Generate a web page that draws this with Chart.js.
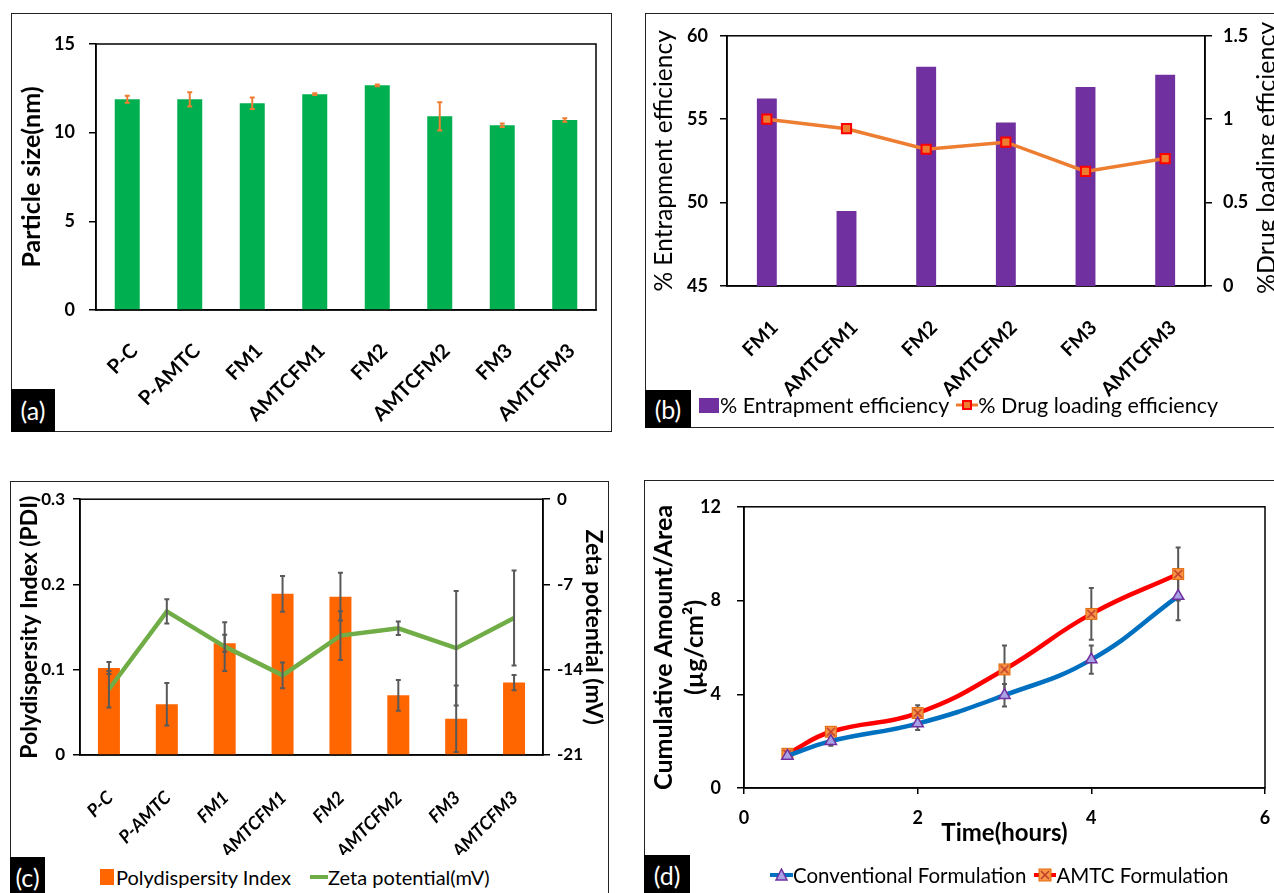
<!DOCTYPE html>
<html>
<head>
    <title>Formulation characterisation</title>
    <script src="https://cdn.jsdelivr.net/npm/chart.js@4.4.1/dist/chart.umd.min.js"></script>
    <style>
        html, body { margin: 0; padding: 0; overflow: hidden; background: #fff; }
        body { position: relative; width: 1274px; height: 893px; font-family: Lato, sans-serif; }
        .panel { position: absolute; box-sizing: border-box; border: 1.5px solid #222; }
        .tag { position: absolute; background: #000; color: #fff; font-size: 25px; line-height: 1;
               display: flex; align-items: center; justify-content: center; }
        canvas { position: absolute; }
        .legend { position: absolute; display: flex; align-items: center; white-space: nowrap; color: #000; }
        .legend svg, .legend span { display: block; }
    </style>
</head>
<body>
    <div class="panel" style="left:11px;top:13px;width:601px;height:419px"></div>
    <div class="panel" style="left:645px;top:13px;width:700px;height:415px"></div>
    <div class="panel" style="left:10px;top:481px;width:599px;height:500px"></div>
    <div class="panel" style="left:644px;top:480px;width:700px;height:500px"></div>

    <canvas id="chartA" width="601" height="419" style="left:11px;top:13px"></canvas>
    <canvas id="chartB" width="660" height="415" style="left:645px;top:13px"></canvas>
    <canvas id="chartC" width="599" height="379" style="left:10px;top:481px"></canvas>
    <canvas id="chartD" width="650" height="380" style="left:644px;top:480px"></canvas>

    <div class="tag" style="left:11px;top:389px;width:44px;height:43px">(a)</div>
    <div class="tag" style="left:645px;top:390px;width:46px;height:38px">(b)</div>
    <div class="tag" style="left:10px;top:857px;width:35px;height:40px">(c)</div>
    <div class="tag" style="left:644px;top:855px;width:46px;height:40px">(d)</div>

    <!-- legends -->
    <div class="legend" style="left:699px;top:392px;height:26px;font-size:21.5px">
        <span style="width:20px;height:15px;background:#7030A0;margin-right:1px"></span>
        <span>% Entrapment efficiency</span>
        <svg width="22" height="14" style="margin-left:7px"><line x1="0" y1="7" x2="22" y2="7" stroke="#ED7D31" stroke-width="3"/><rect x="7" y="3" width="8" height="8" fill="#ED7D31" stroke="#FF0000" stroke-width="2"/></svg>
        <span>% Drug loading efficiency</span>
    </div>
    <div class="legend" style="left:100px;top:864px;height:26px;font-size:20px">
        <span style="width:14px;height:16px;background:#FF6600;margin-right:2px"></span>
        <span>Polydispersity Index</span>
        <svg width="18" height="6" style="margin-left:19px"><line x1="0" y1="3" x2="18" y2="3" stroke="#70AD47" stroke-width="4"/></svg>
        <span>Zeta potential(mV)</span>
    </div>
    <div class="legend" style="left:770px;top:862px;height:26px;font-size:20.5px">
        <svg width="23" height="14"><line x1="0" y1="7" x2="23" y2="7" stroke="#0070C0" stroke-width="4"/><polygon points="11.5,1 17,12 6,12" fill="#A9A3E6" stroke="#7030A0" stroke-width="1.5"/></svg>
        <span>Conventional Formulation</span>
        <svg width="22" height="14" style="margin-left:8px"><line x1="0" y1="7" x2="22" y2="7" stroke="#FF0000" stroke-width="4"/><rect x="5" y="1" width="12" height="12" fill="#F79646" stroke="#E46C0A" stroke-width="1"/><path d="M7,3 L15,11 M15,3 L7,11" stroke="#C0392B" stroke-width="1.5"/></svg>
        <span>AMTC Formulation</span>
    </div>

    <script>
        // (a) particle size
        const formulations = ['P-C', 'P-AMTC', 'FM1', 'AMTCFM1', 'FM2', 'AMTCFM2', 'FM3', 'AMTCFM3'];
        const particleSize = [11.88, 11.88, 11.66, 12.17, 12.67, 10.92, 10.42, 10.72];
        const particleSizeErr = [0.2, 0.4, 0.33, 0.05, 0.05, 0.8, 0.1, 0.1];

        // (b) entrapment / drug loading
        const loadedFormulations = ['FM1', 'AMTCFM1', 'FM2', 'AMTCFM2', 'FM3', 'AMTCFM3'];
        const entrapment = [56.24, 49.5, 58.15, 54.8, 56.93, 57.66];
        const drugLoading = [1.0, 0.943, 0.82, 0.862, 0.687, 0.764];

        // (c) PDI and zeta potential
        const pdi = [0.102, 0.0595, 0.131, 0.189, 0.1856, 0.070, 0.0424, 0.0849];
        const pdiErr = [0.007, 0.025, 0.01, 0.021, 0.028, 0.018, 0.039, 0.009];
        const zeta = [-15.6, -9.21, -12.1, -14.46, -11.2, -10.6, -12.23, -9.75];
        const zetaErr = [1.5, 1.0, 2.0, 1.05, 2.0, 0.55, 4.7, 3.9];

        // (d) permeation
        const timeHours = [0.5, 1, 2, 3, 4, 5];
        const conventional = [1.37, 2.0, 2.75, 3.96, 5.48, 8.19];
        const conventionalErr = [0.05, 0.2, 0.28, 0.48, 0.6, 1.03];
        const amtc = [1.46, 2.4, 3.2, 5.06, 7.43, 9.13];
        const amtcErr = [0.05, 0.12, 0.33, 1.02, 1.1, 1.13];

        Chart.defaults.font.family = 'Lato';
        Chart.defaults.color = '#000';
        Chart.defaults.animation = false;
        Chart.defaults.plugins.legend.display = false;
        Chart.defaults.plugins.tooltip.enabled = false;

        // box around the plot area
        const framePlugin = {
            id: 'frame',
            beforeDatasetsDraw(chart) {
                const a = chart.chartArea, ctx = chart.ctx;
                ctx.save();
                ctx.strokeStyle = '#000';
                ctx.lineWidth = 1.5;
                ctx.strokeRect(a.left, a.top, a.right - a.left, a.bottom - a.top);
                ctx.restore();
            }
        };

        // error bars drawn from the y scale of each dataset
        function errorBars(sets, behind) {
            const draw = chart => {
                const ctx = chart.ctx;
                sets.forEach(set => {
                    const meta = chart.getDatasetMeta(set.dataset);
                    const ds = chart.data.datasets[set.dataset];
                    const yScale = chart.scales[meta.yAxisID];
                    ctx.save();
                    ctx.strokeStyle = set.color;
                    ctx.lineWidth = set.width || 2;
                    meta.data.forEach((el, i) => {
                        const raw = ds.data[i];
                        const v = typeof raw === 'object' ? raw.y : raw;
                        const e = set.err[i];
                        const yTop = yScale.getPixelForValue(v + e);
                        const yBot = yScale.getPixelForValue(v - e);
                        const c = set.cap || 2.5;
                        ctx.beginPath();
                        ctx.moveTo(el.x, yTop); ctx.lineTo(el.x, yBot);
                        ctx.moveTo(el.x - c, yTop); ctx.lineTo(el.x + c, yTop);
                        ctx.moveTo(el.x - c, yBot); ctx.lineTo(el.x + c, yBot);
                        ctx.stroke();
                    });
                    ctx.restore();
                });
            };
            return behind ? { id: 'errBehind', beforeDatasetsDraw: draw } : { id: 'errFront', afterDatasetsDraw: draw };
        }

        // right-hand title of (b), reading bottom to top like the left one
        const rightTitlePlugin = {
            id: 'rightTitle',
            afterDraw(chart) {
                const ctx = chart.ctx, a = chart.chartArea;
                ctx.save();
                ctx.translate(630, (a.top + a.bottom) / 2 - 3);
                ctx.rotate(-Math.PI / 2);
                ctx.font = '25px Lato';
                ctx.fillStyle = '#000';
                ctx.textAlign = 'center';
                ctx.textBaseline = 'alphabetic';
                ctx.fillText('%Drug loading efficiency', 0, 0);
                ctx.restore();
            }
        };

        // plain tick text, 1 rather than 1.0
        const plainTick = v => String(Math.round(v * 1000) / 1000);

        function yAxis(min, max, step, width, tickFont, title, titleFont, titlePad, tickPad, pos) {
            return {
                position: pos || 'left',
                min: min, max: max,
                ticks: { stepSize: step, font: tickFont, padding: tickPad, callback: plainTick },
                grid: { drawOnChartArea: false, drawTicks: true, tickLength: 7, color: '#000', lineWidth: 1.5 },
                border: { color: '#000', width: 1.5 },
                title: { display: !!title, text: title, font: titleFont, padding: { top: titlePad, bottom: 0 } },
                afterFit(scale) { scale.width = width; }
            };
        }

        function catAxis(height, font, pad, offset) {
            return {
                grid: { display: false },
                border: { color: '#000', width: 1.5 },
                ticks: { minRotation: 45, maxRotation: 45, autoSkip: false, font: font, padding: pad, labelOffset: offset },
                afterFit(scale) { scale.height = height; }
            };
        }

        // (a)
        new Chart(document.getElementById('chartA'), {
            type: 'bar',
            data: {
                labels: formulations,
                datasets: [{
                    label: 'Particle size',
                    data: particleSize,
                    backgroundColor: '#00B050',
                    categoryPercentage: 1,
                    barPercentage: 0.4
                }]
            },
            options: {
                responsive: false,
                layout: { padding: { top: 31, right: 16, bottom: 0, left: 0 } },
                scales: {
                    x: catAxis(122, { size: 20, weight: 'bold' }, 21, 7),
                    y: yAxis(0, 15, 5, 85, { size: 18, weight: 'bold' }, 'Particle size(nm)',
                        { size: 25, weight: 'bold' }, 6, 14)
                }
            },
            plugins: [framePlugin, errorBars([{ dataset: 0, err: particleSizeErr, color: '#ED7D31', width: 2 }])]
        });

        // (b)
        new Chart(document.getElementById('chartB'), {
            type: 'bar',
            data: {
                labels: loadedFormulations,
                datasets: [{
                    type: 'line',
                    label: '% Drug loading efficiency',
                    data: drugLoading,
                    yAxisID: 'y1',
                    borderColor: '#ED7D31',
                    borderWidth: 3.5,
                    pointStyle: 'rect',
                    pointRadius: 6.5,
                    pointBackgroundColor: '#ED7D31',
                    pointBorderColor: '#FF0000',
                    pointBorderWidth: 2,
                    order: 0
                }, {
                    label: '% Entrapment efficiency',
                    data: entrapment,
                    yAxisID: 'y',
                    backgroundColor: '#7030A0',
                    categoryPercentage: 1,
                    barPercentage: 0.25,
                    order: 1
                }]
            },
            options: {
                responsive: false,
                layout: { padding: { top: 18, right: 0, bottom: 22, left: 0 } },
                scales: {
                    x: catAxis(120, { size: 19.5, weight: 'bold' }, 22, 8),
                    y: yAxis(45, 60, 5, 82, { size: 18, weight: 'bold' }, '% Entrapment efficiency',
                        { size: 24.5 }, 4, 12),
                    y1: yAxis(0, 1.5, 0.5, 100, { size: 18, weight: 'bold' }, '', null, 0, 11, 'right')
                }
            },
            plugins: [framePlugin, rightTitlePlugin]
        });

        // (c)
        new Chart(document.getElementById('chartC'), {
            type: 'bar',
            data: {
                labels: formulations,
                datasets: [{
                    type: 'line',
                    label: 'Zeta potential(mV)',
                    data: zeta,
                    yAxisID: 'y1',
                    borderColor: '#70AD47',
                    borderWidth: 4.5,
                    pointRadius: 0,
                    order: 0
                }, {
                    label: 'Polydispersity Index',
                    data: pdi,
                    yAxisID: 'y',
                    backgroundColor: '#FF6600',
                    categoryPercentage: 1,
                    barPercentage: 0.38,
                    order: 1
                }]
            },
            options: {
                responsive: false,
                layout: { padding: { top: 17, right: 0, bottom: 5, left: 0 } },
                scales: {
                    x: catAxis(100, { size: 18, weight: 'bold', style: 'italic' }, 24, 1),
                    y: yAxis(0, 0.3, 0.1, 70, { size: 17, weight: 'bold' }, 'Polydispersity Index (PDI)',
                        { size: 23, weight: 'bold' }, 6, 8),
                    y1: yAxis(-21, 0, 7, 66, { size: 17, weight: 'bold' }, 'Zeta potential (mV)',
                        { size: 23, weight: 'bold' }, 2, 7, 'right')
                }
            },
            plugins: [framePlugin, errorBars([
                { dataset: 1, err: pdiErr, color: '#595959', width: 2 },
                { dataset: 0, err: zetaErr, color: '#595959', width: 2 }
            ])]
        });

        // (d)
        function crossSquare() {
            const c = document.createElement('canvas');
            c.width = 14; c.height = 14;
            const g = c.getContext('2d');
            g.fillStyle = '#F79646';
            g.fillRect(1, 1, 12, 12);
            g.strokeStyle = '#E46C0A';
            g.lineWidth = 1;
            g.strokeRect(1.5, 1.5, 11, 11);
            g.strokeStyle = '#C0392B';
            g.lineWidth = 1.5;
            g.beginPath();
            g.moveTo(3, 3); g.lineTo(11, 11);
            g.moveTo(11, 3); g.lineTo(3, 11);
            g.stroke();
            return c;
        }

        new Chart(document.getElementById('chartD'), {
            type: 'line',
            data: {
                datasets: [{
                    label: 'Conventional Formulation',
                    data: timeHours.map((t, i) => ({ x: t, y: conventional[i] })),
                    borderColor: '#0070C0',
                    borderWidth: 4.5,
                    tension: 0.45,
                    pointStyle: 'triangle',
                    pointRadius: 6.5,
                    pointBackgroundColor: '#A9A3E6',
                    pointBorderColor: '#7030A0',
                    pointBorderWidth: 1.5
                }, {
                    label: 'AMTC Formulation',
                    data: timeHours.map((t, i) => ({ x: t, y: amtc[i] })),
                    borderColor: '#FF0000',
                    borderWidth: 4.5,
                    tension: 0.45,
                    pointStyle: crossSquare(),
                    pointRadius: 7
                }]
            },
            options: {
                responsive: false,
                layout: { padding: { top: 18, right: 29, bottom: 12, left: 0 } },
                scales: {
                    x: {
                        type: 'linear',
                        min: 0, max: 6,
                        ticks: { stepSize: 2, font: { size: 18, weight: 'bold' }, padding: 13 },
                        grid: { drawOnChartArea: false, drawTicks: true, tickLength: 6, color: '#000', lineWidth: 1.5 },
                        border: { color: '#000', width: 1.5 },
                        title: { display: true, text: 'Time(hours)', font: { size: 24, weight: 'bold' }, padding: { top: 0, bottom: 0 } },
                        afterFit(scale) { scale.height = 60; }
                    },
                    y: yAxis(0, 12, 4, 100, { size: 18, weight: 'bold' }, ['Cumulative Amount/Area', '(µg/cm²)'],
                        { size: 25, weight: 'bold', lineHeight: 1.25 }, 4, 16)
                }
            },
            plugins: [framePlugin, errorBars([
                { dataset: 0, err: conventionalErr, color: '#595959', width: 2 },
                { dataset: 1, err: amtcErr, color: '#595959', width: 2 }
            ], true)]
        });
    </script>
</body>
</html>
